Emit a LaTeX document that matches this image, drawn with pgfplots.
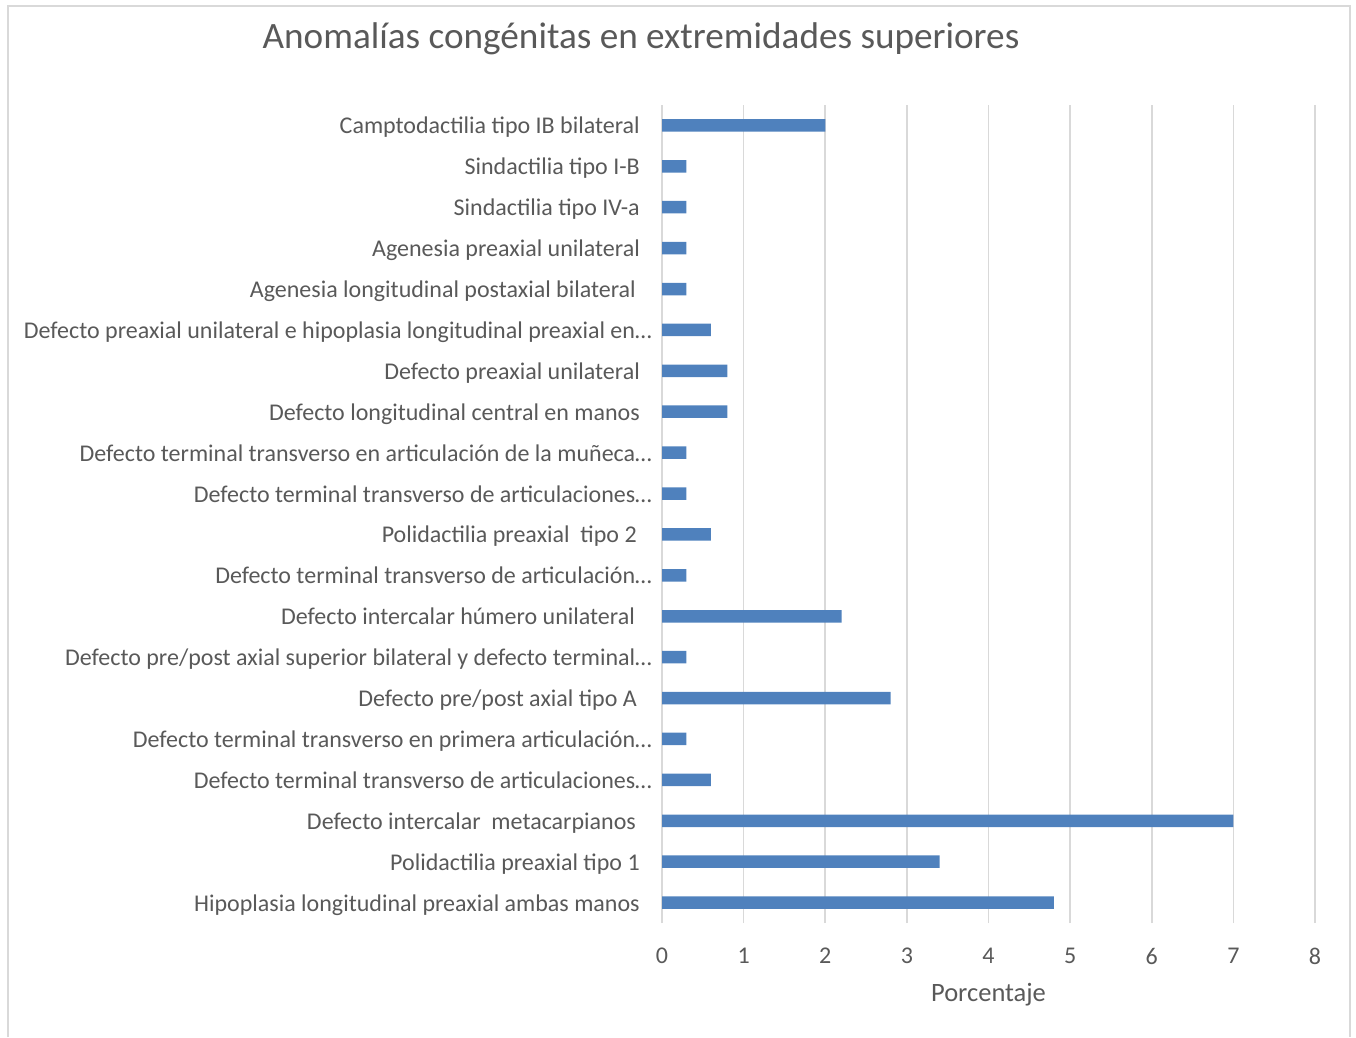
\documentclass[border=0pt]{standalone}
\usepackage{fontspec}
\setmainfont{Carlito}
\usepackage{pgfplots}
\pgfplotsset{compat=1.18}
\definecolor{txt}{HTML}{595959}
\definecolor{gridc}{HTML}{D9D9D9}
\definecolor{barc}{HTML}{4F81BD}
\begin{document}
\begin{tikzpicture}[x=1pt,y=1pt]
\useasboundingbox (0,0) rectangle (1356,1037);
\draw[gridc, line width=1.5pt] (8,0) -- (8,1031) -- (1350,1031) -- (1350,0);
\node[txt, font=\fontsize{37.2}{44}\selectfont, inner sep=0pt] at (641,998) {Anomalías congénitas en extremidades superiores};
\begin{axis}[
  at={(662pt,114pt)}, anchor=south west,
  scale only axis, width=653pt, height=818pt,
  xbar, bar width=12.5pt,
  xmin=0, xmax=8, ymin=-0.5, ymax=19.5,
  xtick={0,1,...,8}, ytick={0,1,...,19},
  major tick length=0pt,
  axis line style={draw=none},
  xmajorgrids, grid style={gridc, line width=1.6pt},
  /pgf/number format/assume math mode=true,
  tick label style={text=txt, font=\fontsize{24}{28}\selectfont},
  xticklabel style={anchor=north, inner sep=0pt, yshift=-25pt},
  yticklabel style={anchor=base east, inner sep=0pt, xshift=-10pt, yshift=-8.5pt},
  xlabel={Porcentaje},
  xlabel style={text=txt, font=\fontsize{26.5}{30}\selectfont, at={(axis description cs:0.5,0)}, anchor=center, yshift=-72pt},
  yticklabels={
    Hipoplasia longitudinal preaxial ambas manos\kern12pt,
    Polidactilia preaxial tipo 1\kern12pt,
    Defecto intercalar\ \ metacarpianos\kern16pt,
    Defecto terminal transverso de articulaciones…,
    Defecto terminal transverso en primera articulación…,
    Defecto pre/post axial tipo A\kern15pt,
    Defecto pre/post axial superior bilateral y defecto terminal…,
    Defecto intercalar húmero unilateral\kern17pt,
    Defecto terminal transverso de articulación…,
    Polidactilia preaxial\ \ tipo 2\kern15pt,
    Defecto terminal transverso de articulaciones…,
    Defecto terminal transverso en articulación de la muñeca…,
    Defecto longitudinal central en manos\kern12pt,
    Defecto preaxial unilateral\kern12pt,
    Defecto preaxial unilateral e hipoplasia longitudinal preaxial en…,
    Agenesia longitudinal postaxial bilateral\kern16pt,
    Agenesia preaxial unilateral\kern12pt,
    Sindactilia tipo IV-a\kern12pt,
    Sindactilia tipo I-B\kern12pt,
    Camptodactilia tipo IB bilateral\kern12pt
  },
]
\addplot[fill=barc, draw=none] coordinates {
  (4.8,0) (3.4,1) (7.0,2) (0.6,3) (0.3,4) (2.8,5) (0.3,6) (2.2,7) (0.3,8) (0.6,9)
  (0.3,10) (0.3,11) (0.8,12) (0.8,13) (0.6,14) (0.3,15) (0.3,16) (0.3,17) (0.3,18) (2.0,19)
};
\end{axis}
\end{tikzpicture}
\end{document}
